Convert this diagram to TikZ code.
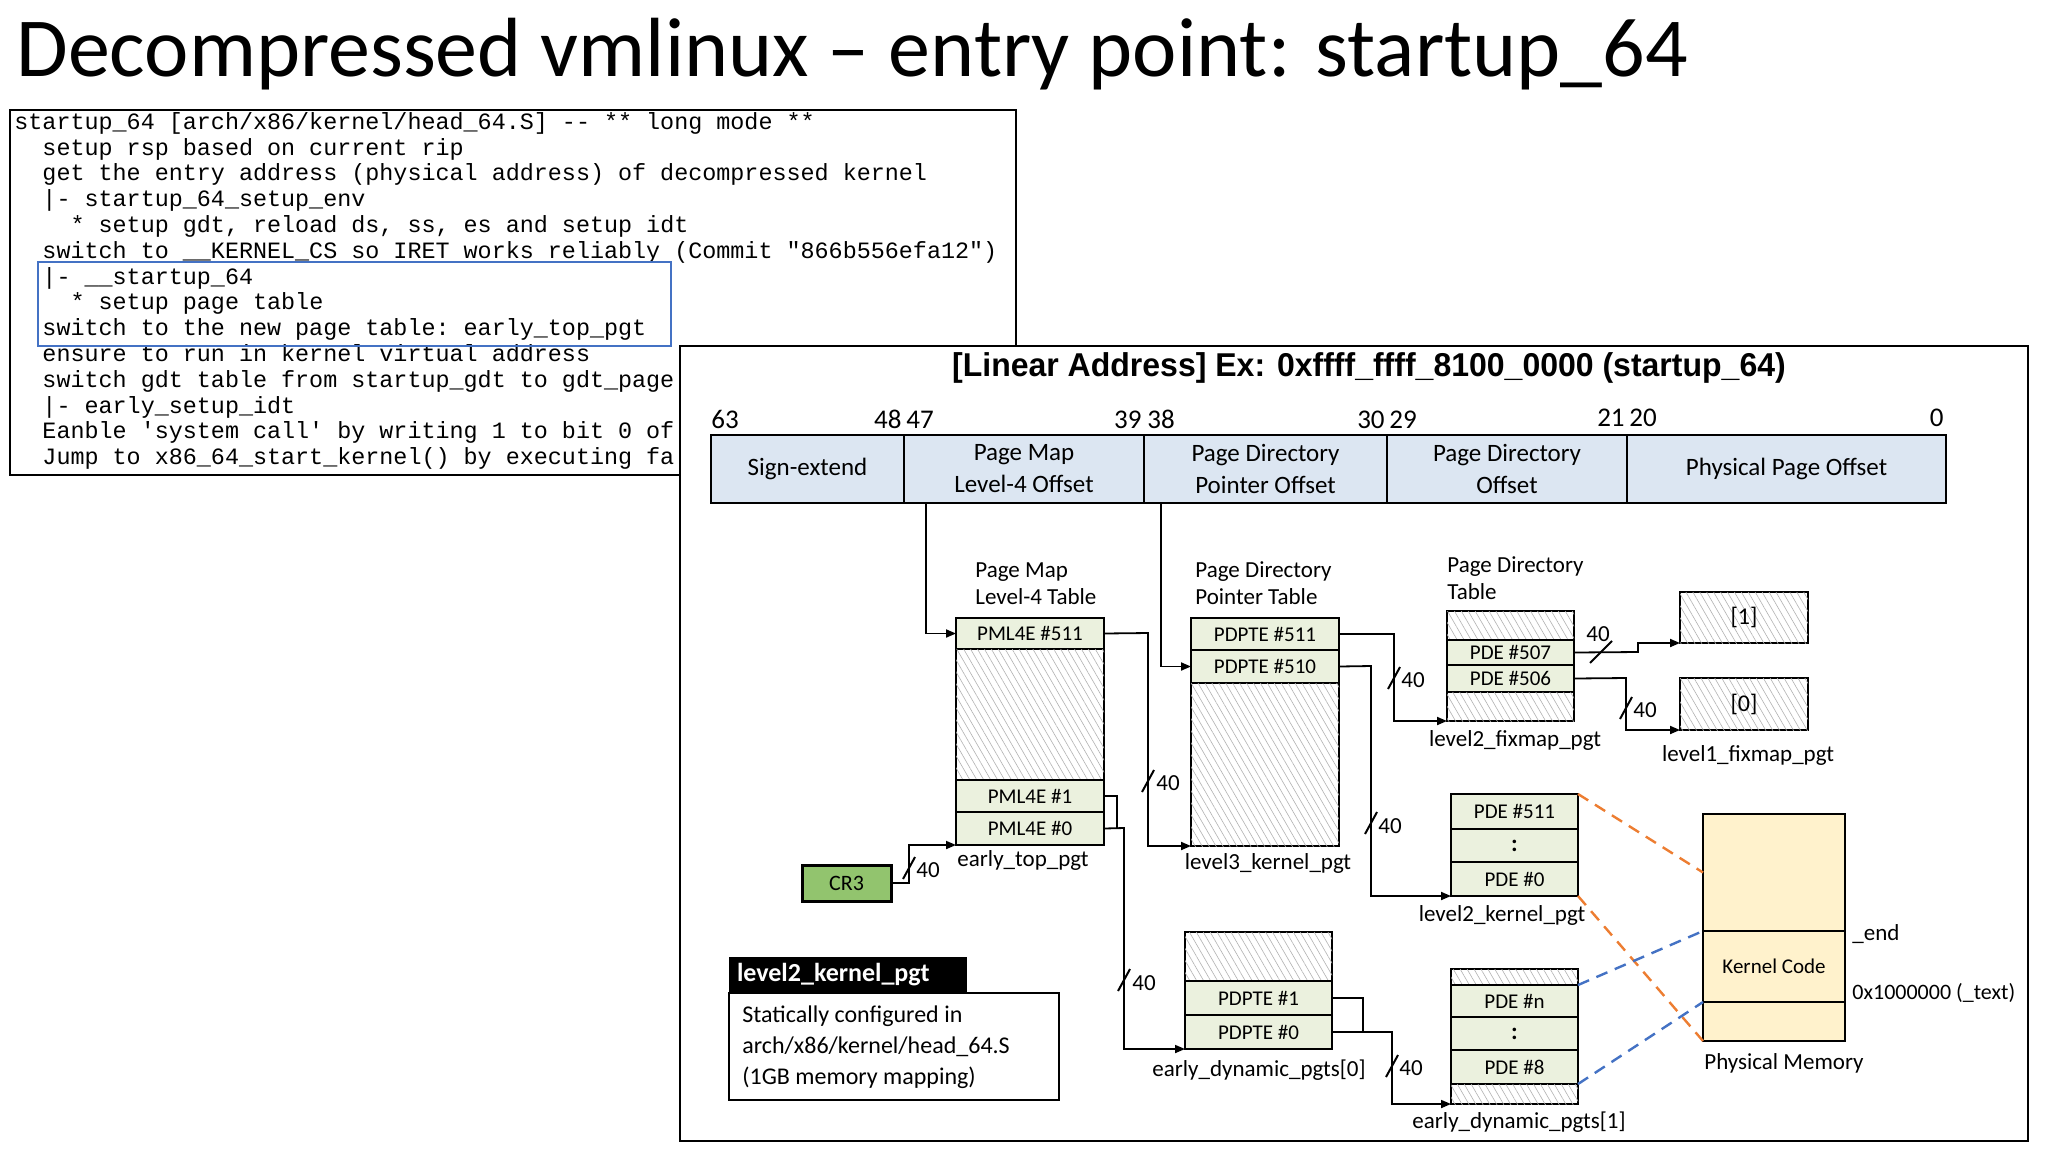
\documentclass[tikz,border=0pt]{standalone}
\usepackage{fontspec}
\setmainfont{Carlito}
\setmonofont{Liberation Mono}
\newfontfamily\arialf{Liberation Sans}
\usetikzlibrary{patterns.meta,arrows.meta}
\definecolor{rowg}{HTML}{EBF1DE}
\definecolor{barb}{HTML}{DCE6F2}
\definecolor{crg}{HTML}{92C46E}
\definecolor{memy}{HTML}{FFF2CC}
\definecolor{orng}{HTML}{ED7D31}
\definecolor{bluel}{HTML}{4472C4}
\newcommand\bx[7]{\pgfmathsetmacro\bw{(#4-#2)*0.5}\pgfmathsetmacro\bh{(#5-#3)*0.5}%
\node[#7,minimum width=\bw pt,minimum height=\bh pt,inner sep=0pt,outer sep=0pt] (#1) at ({(#2+#4)/2},{(#3+#5)/2}) {#6};}
\newcommand\cutv[4]{\draw[line width=1pt] (#1-6,#2+11) -- (#1+6,#2-11); \node[lbl,anchor=west] at (#3,#4) {40};}
\begin{document}
\begin{tikzpicture}[x=0.5pt,y=-0.5pt,
  lbl/.style={font=\fontsize{11.5}{13.5}\selectfont,inner sep=1pt},
  row/.style={draw,line width=1pt,fill=rowg,font=\fontsize{10.5}{12}\selectfont},
  hatch/.style={draw,line width=1pt,fill=white,postaction={pattern={Lines[angle=120,distance=3pt,line width=0.3pt]},pattern color=gray!60}},
  bar/.style={draw,line width=1pt,fill=barb,align=center,font=\fontsize{12.5}{16}\selectfont},
  arr/.style={line width=0.9pt,-{Triangle[length=5pt,width=4pt]}},
  conn/.style={line width=0.9pt},
  bitn/.style={font=\fontsize{13.5}{15}\selectfont,inner sep=0pt}]
\useasboundingbox[fill=white] (0,0) rectangle (2048,1152);
% title
\node[anchor=base west,inner sep=0pt,font=\fontsize{42}{46}\selectfont] (title) at (16,76) {Decompressed vmlinux -- entry point: startup\_64};
% code box
\node[draw,line width=0.8pt,minimum width=503pt,minimum height=182.5pt,inner sep=0pt] (code) at (513,292.5) {};
\node[anchor=north west,inner sep=0pt,align=left,font=\ttfamily\fontsize{11.7}{12.9}\selectfont] (codetxt) at (14,112) {%
startup\_64 [arch/x86/kernel/head\_64.S] -- ** long mode **\\
\ \ setup rsp based on current rip\\
\ \ get the entry address (physical address) of decompressed kernel\\
\ \ |- startup\_64\_setup\_env\\
\ \ \ \ * setup gdt, reload ds, ss, es and setup idt\\
\ \ switch to \_\_KERNEL\_CS so IRET works reliably (Commit "866b556efa12")\\
\ \ |- \_\_startup\_64\\
\ \ \ \ * setup page table\\
\ \ switch to the new page table: early\_top\_pgt\\
\ \ ensure to run in kernel virtual address\\
\ \ switch gdt table from startup\_gdt to gdt\_page\\
\ \ |- early\_setup\_idt\\
\ \ Eanble 'system call' by writing 1 to bit 0 of\\
\ \ Jump to x86\_64\_start\_kernel() by executing fa};
\node[draw=bluel,line width=1.3pt,minimum width=316.5pt,minimum height=42pt,inner sep=0pt] (bluebox) at (354.5,304) {};
% diagram box
\node[draw,line width=0.9pt,fill=white,minimum width=674pt,minimum height=397.5pt,inner sep=0pt] (diag) at (1354,743.5) {};
\node[inner sep=0pt,font=\arialf\bfseries\fontsize{16.5}{18}\selectfont] (dtitle) at (1369,368) {\scalebox{0.97}[1]{[Linear Address] Ex: 0xffff\_ffff\_8100\_0000 (startup\_64)}};
% bit bar
\bx{b1}{711}{435}{904}{503}{Sign-extend}{bar}
\bx{b2}{904}{435}{1144}{503}{Page Map\\Level-4 Offset}{bar}
\bx{b3}{1144}{435}{1387}{503}{Page Directory\\Pointer Offset}{bar}
\bx{b4}{1387}{435}{1627}{503}{Page Directory\\Offset}{bar}
\bx{b5}{1627}{435}{1946}{503}{Physical Page Offset}{bar}
\node[bitn,anchor=base west] (n63) at (711,428) {63};
\node[bitn,anchor=base east] (n48) at (902,428) {48};
\node[bitn,anchor=base west] (n47) at (906,428) {47};
\node[bitn,anchor=base east] (n39) at (1142,428) {39};
\node[bitn,anchor=base west] (n38) at (1147,428) {38};
\node[bitn,anchor=base east] (n30) at (1385,428) {30};
\node[bitn,anchor=base west] (n29) at (1389,428) {29};
\node[bitn,anchor=base east] (n21) at (1625,426) {21};
\node[bitn,anchor=base west] (n20) at (1629,426) {20};
\node[bitn,anchor=base east] (n0) at (1944,426) {0};
% PML4 table
\node[lbl,anchor=west,align=left] (pml4l) at (973,584) {Page Map\\Level-4 Table};
\bx{p511}{956}{618}{1104}{649}{PML4E \#511}{row}
\bx{ph}{956}{649}{1104}{780}{}{hatch}
\bx{p1}{956}{780}{1104}{812}{PML4E \#1}{row}
\bx{p0}{956}{812}{1104}{845}{PML4E \#0}{row}
\node[lbl] (etp) at (1023,860) {early\_top\_pgt};
% PDPT
\node[lbl,anchor=west,align=left] (pdptl) at (1193,583) {Page Directory\\Pointer Table};
\bx{d511}{1191}{618}{1339}{650}{PDPTE \#511}{row}
\bx{d510}{1191}{650}{1339}{683}{PDPTE \#510}{row}
\bx{dh}{1191}{683}{1339}{846}{}{hatch}
\node[lbl] (l3l) at (1268,863) {level3\_kernel\_pgt};
% PD fixmap
\node[lbl,anchor=west,align=left] (pdl) at (1445,578) {Page Directory\\Table};
\bx{fh1}{1447}{611}{1574}{640}{}{hatch}
\bx{f507}{1447}{640}{1574}{665}{PDE \#507}{row}
\bx{f506}{1447}{665}{1574}{692}{PDE \#506}{row}
\bx{fh2}{1447}{692}{1574}{721}{}{hatch}
\node[lbl] (l2fl) at (1515,740) {level2\_fixmap\_pgt};
% level1 fixmap
\bx{e1}{1680}{592}{1808}{643}{[1]}{hatch,font=\fontsize{12}{14}\selectfont}
\bx{e0}{1680}{678}{1808}{730}{[0]}{hatch,font=\fontsize{12}{14}\selectfont}
\node[lbl] (l1fl) at (1748,755) {level1\_fixmap\_pgt};
% level2 kernel
\bx{k511}{1451}{794}{1578}{829}{PDE \#511}{row}
\bx{kc}{1451}{829}{1578}{862}{\textbf{\large :}}{row}
\bx{k0}{1451}{862}{1578}{896}{PDE \#0}{row}
\node[lbl] (l2kl) at (1502,915) {level2\_kernel\_pgt};
% early dynamic 0
\bx{gh}{1185}{932}{1332}{981}{}{hatch}
\bx{g1}{1185}{981}{1332}{1015}{PDPTE \#1}{row}
\bx{g0}{1185}{1015}{1332}{1049}{PDPTE \#0}{row}
\node[lbl] (ed0l) at (1259,1070) {early\_dynamic\_pgts[0]};
% early dynamic 1
\bx{hh1}{1451}{969}{1578}{985}{}{hatch}
\bx{hn}{1451}{985}{1578}{1017}{PDE \#n}{row}
\bx{hc}{1451}{1017}{1578}{1050}{\textbf{\large :}}{row}
\bx{h8}{1451}{1050}{1578}{1084}{PDE \#8}{row}
\bx{hh2}{1451}{1084}{1578}{1104}{}{hatch}
\node[lbl] (ed1l) at (1519,1122) {early\_dynamic\_pgts[1]};
% CR3
\bx{cr3}{802}{865}{891}{901}{CR3}{draw,line width=1.5pt,fill=crg,font=\fontsize{11}{13}\selectfont}
% physical memory
\bx{m1}{1703}{814}{1845}{931}{}{draw,line width=1pt,fill=memy}
\bx{mk}{1703}{931}{1845}{1002}{Kernel Code}{draw,line width=1pt,fill=memy,font=\fontsize{10.5}{12}\selectfont}
\bx{m2}{1703}{1002}{1845}{1041}{}{draw,line width=1pt,fill=memy}
\node[lbl,anchor=west] (endl) at (1850,934) {\_end};
\node[lbl,anchor=west,font=\fontsize{11}{13}\selectfont] (textl) at (1850,993) {0x1000000 (\_text)};
\node[lbl] (pml) at (1784,1063) {Physical Memory};
% note box
\bx{nh}{729}{957}{967}{993}{\hspace*{4pt}level2\_kernel\_pgt\hfill}{fill=black,text=white,font=\bfseries\fontsize{13}{15}\selectfont,text width=119pt}
\bx{nb}{729}{993}{1059}{1100}{}{draw,line width=0.9pt,fill=white}
\node[anchor=west,align=left,font=\fontsize{12}{15.5}\selectfont,inner sep=0pt] (nt) at (742,1047) {Statically configured in\\arch/x86/kernel/head\_64.S\\(1GB memory mapping)};
% connectors
\draw[arr] ([xshift=11pt]b2.south west) |- (p511.west);
\draw[arr] ([xshift=8.5pt]b3.south west) |- (d510.west);
\draw[arr] (p511.east) -- (1148,633) |- (dh.south west);
\draw[conn] (p1.east) -- (1117,796) |- (p0.east);
\draw[arr] (p0.east) -- (1124,828) |- (g0.south west);
\draw[arr] (cr3.east) -- (909,883) |- (p0.south west);
\draw[arr] (d511.east) -- (1394,634) |- (fh2.south west);
\draw[arr] (d510.east) -- (1371,666) |- (k0.south west);
\draw[conn] (g1.east) -- (1363,998) |- (g0.east);
\draw[arr] (g0.east) -- (1392,1032) |- (hh2.south west);
\draw[arr] (f507.east) -- (1638,652) |- (e1.south west);
\draw[arr] (f506.east) -- (1626,678) |- (e0.south west);
\cutv{1148}{781}{1154}{783}
\cutv{1124}{980}{1130}{983}
\cutv{909}{868}{914}{870}
\cutv{1394}{678}{1399}{680}
\cutv{1371}{823}{1376}{826}
\cutv{1392}{1066}{1397}{1068}
\cutv{1626}{708}{1631}{710}
\draw[line width=1pt] (1590,663) -- (1612,641);
\node[lbl] (c507) at (1598,634) {40};
% dashed mapping lines
\draw[orng,line width=1.2pt,dash pattern=on 6pt off 4pt] (k511.north east) -- (m1.east -| m1.west);
\draw[orng,line width=1.2pt,dash pattern=on 6pt off 4pt] (k0.south east) -- (m2.south west);
\draw[bluel,line width=1.2pt,dash pattern=on 6pt off 4pt] (hn.north east) -- (mk.north west);
\draw[bluel,line width=1.2pt,dash pattern=on 6pt off 4pt] (h8.south east) -- (mk.south west);
\end{tikzpicture}
\end{document}
